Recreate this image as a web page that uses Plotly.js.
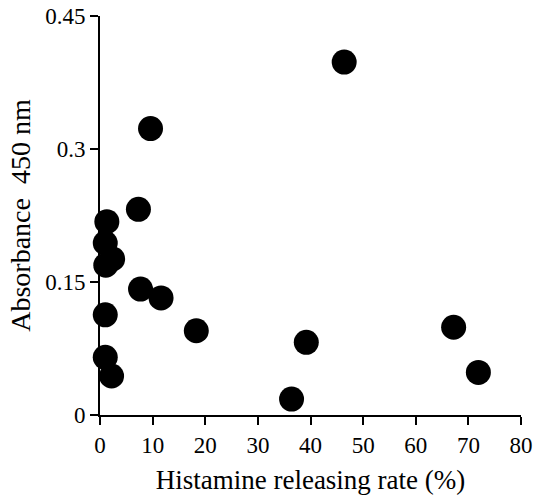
<!DOCTYPE html>
<html>
<head>
<meta charset="utf-8">
<script src="https://cdn.plot.ly/plotly-3.0.1.min.js"></script>
<style>html,body{margin:0;padding:0;background:#fff;}#chart{width:539px;height:504px;}</style>
</head>
<body>
<div id="chart"></div>
<script>
var releasingRate = [46.4, 9.6, 7.3, 1.3, 1.0, 2.4, 1.1, 7.7, 11.6, 1.0, 18.3, 1.0, 2.2, 36.4, 39.2, 67.2, 71.9];
var absorbance =    [0.398, 0.323, 0.232, 0.218, 0.194, 0.176, 0.169, 0.142, 0.132, 0.113, 0.095, 0.065, 0.044, 0.018, 0.082, 0.099, 0.048];
var xTicks = [0, 10, 20, 30, 40, 50, 60, 70, 80];
var yTicks = [0, 0.15, 0.3, 0.45];
var yTickText = ['0', '0.15', '0.3', '0.45'];

var fam = 'Liberation Serif';

Plotly.newPlot('chart', [{
  x: releasingRate,
  y: absorbance,
  mode: 'markers',
  type: 'scatter',
  marker: {color: '#000', size: 25, line: {width: 0}},
  cliponaxis: false
}], {
  width: 539, height: 504,
  margin: {l: 100, r: 18, t: 16, b: 89},
  paper_bgcolor: '#fff', plot_bgcolor: '#fff',
  showlegend: false,
  font: {family: fam, size: 23, color: '#000'},
  xaxis: {
    range: [0, 80], tickmode: 'array', tickvals: xTicks, ticktext: xTicks.map(String),
    showgrid: false, zeroline: false, showline: true, linecolor: '#000', linewidth: 2,
    ticks: 'outside', ticklen: 8, tickwidth: 2, tickcolor: '#000',
    tickfont: {family: fam, size: 23, color: '#000'},
    title: {text: 'Histamine releasing rate (%)', font: {family: fam, size: 27, color: '#000'}, standoff: 14}
  },
  yaxis: {
    range: [0, 0.45], tickmode: 'array', tickvals: yTicks, ticktext: yTickText,
    showgrid: false, zeroline: false, showline: true, linecolor: '#000', linewidth: 2,
    ticks: 'outside', ticklen: 8, tickwidth: 2, tickcolor: '#000',
    tickfont: {family: fam, size: 23, color: '#000'},
    title: {text: 'Absorbance  450 nm', font: {family: fam, size: 28, color: '#000'}, standoff: 6}
  }
}, {displayModeBar: false}).then(function(gd){
  return Plotly.relayout(gd, {
    'xaxis.tickfont.size': 23, 'yaxis.tickfont.size': 23,
    'xaxis.tickfont.family': fam, 'yaxis.tickfont.family': fam
  });
});
</script>
</body>
</html>
